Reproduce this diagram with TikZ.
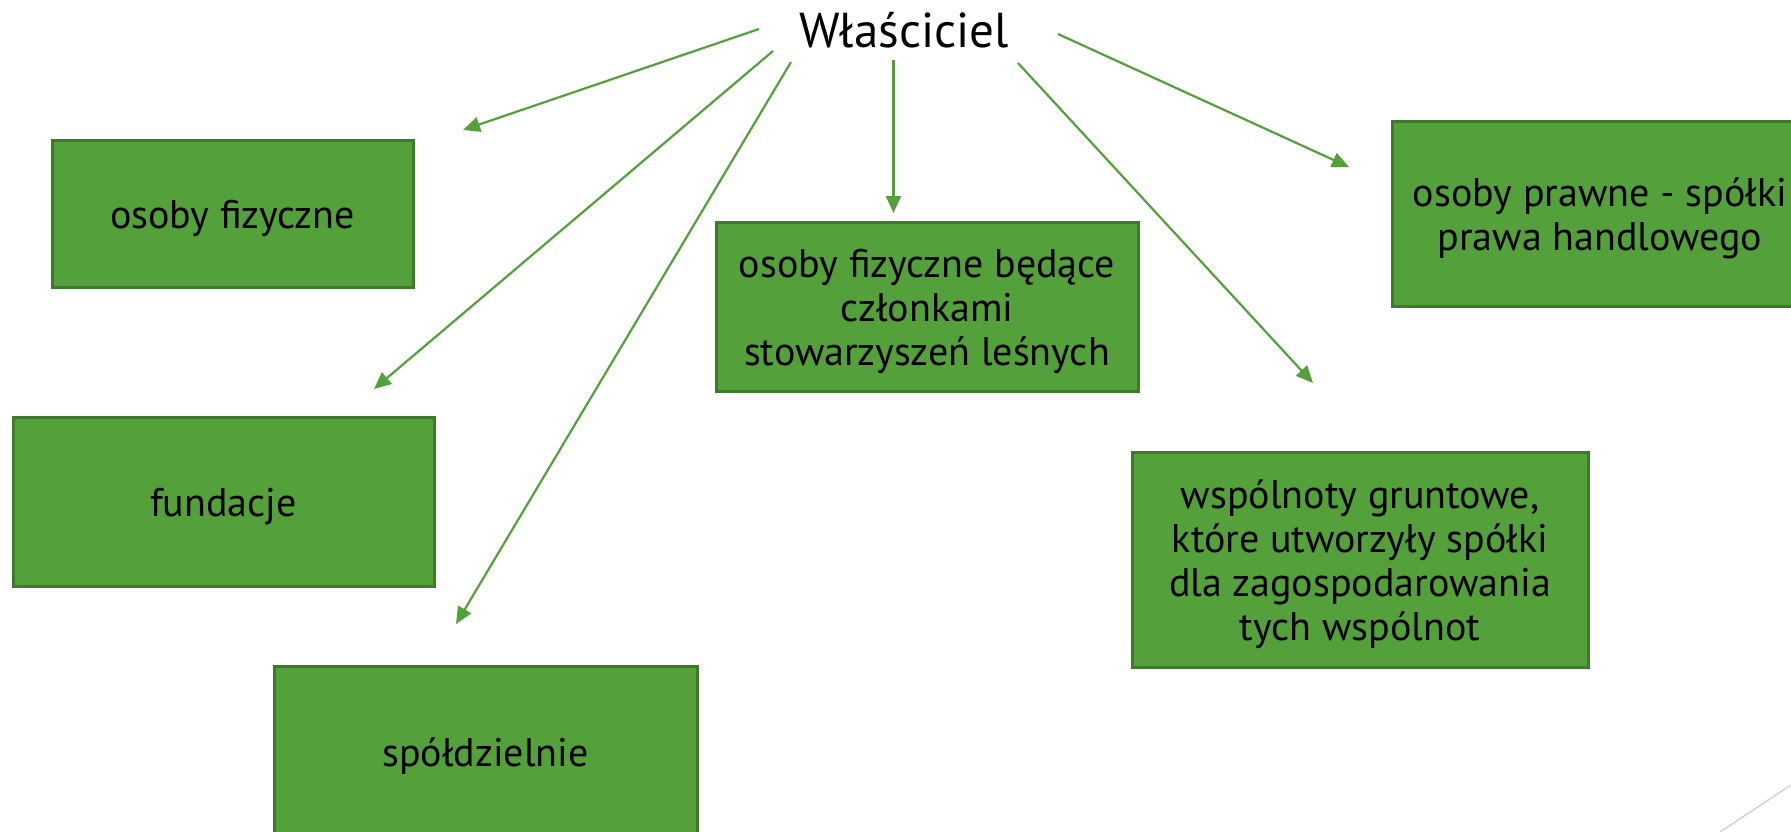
\documentclass[tikz,border=0pt]{standalone}
\usepackage{fontspec}
\setmainfont{PT Sans}
\usetikzlibrary{arrows.meta}
\definecolor{boxfill}{HTML}{54A03A}
\definecolor{boxline}{HTML}{3E7A2B}
\definecolor{arrowc}{HTML}{54A03A}
\definecolor{deco}{HTML}{D4D4D4}
\newcommand{\boxtext}[1]{\raisebox{-6pt}[\height][\depth]{\begin{tabular}{@{}c@{}}#1\end{tabular}}}
\newcommand{\shortdash}{\resizebox{0.55\width}{\height}{–}}
\begin{document}
\begin{tikzpicture}[x=1pt,y=-1pt,
  box/.style={rectangle, draw=boxline, fill=boxfill, line width=3pt,
    inner sep=0pt, font=\fontsize{40}{44}\selectfont, text=black},
  conn/.style={draw=arrowc, line width=2.2pt, -{Triangle[length=17pt,width=15pt]}}]
\useasboundingbox (0,0) rectangle (1791,832);
\clip (0,0) rectangle (1791,832);
\node[font=\fontsize{49}{54}\selectfont] (title) at (904,30) {Właściciel};
\node[box, minimum width=361pt, minimum height=146pt] (b1) at (232.5,214) {\boxtext{osoby fizyczne}};
\node[box, minimum width=421pt, minimum height=169pt] (b2) at (223.5,501.5) {\boxtext{fundacje}};
\node[box, minimum width=423pt, minimum height=172pt] (b3) at (485.5,752) {\boxtext{spółdzielnie}};
\node[box, minimum width=422pt, minimum height=169pt] (b4) at (927,306.5) {\boxtext{osoby fizyczne będące\\członkami\\stowarzyszeń leśnych}};
\node[box, minimum width=416pt, minimum height=184pt] (b5) at (1600,214) {\boxtext{osoby prawne \shortdash{} spółki\\prawa handlowego}};
\node[box, minimum width=456pt, minimum height=215pt] (b6) at (1360,559.5) {\boxtext{wspólnoty gruntowe,\\które utworzyły spółki\\dla zagospodarowania\\tych wspólnot}};
\coordinate (s1) at (759,29);
\coordinate (e1) at (463,130);
\coordinate (s2) at (773,51);
\coordinate (e2) at (374,389);
\coordinate (s3) at (791,62);
\coordinate (e3) at (456,624);
\coordinate (s4) at (893.5,60);
\coordinate (e4) at (893.5,213);
\coordinate (s5) at (1018,63);
\coordinate (e5) at (1313,383);
\coordinate (s6) at (1058,34);
\coordinate (e6) at (1349,167);
\draw[conn] (s1) -- (e1);
\draw[conn] (s2) -- (e2);
\draw[conn] (s3) -- (e3);
\draw[conn] (s4) -- (e4);
\draw[conn] (s5) -- (e5);
\draw[conn] (s6) -- (e6);
\coordinate (d1) at (1791,785);
\coordinate (d2) at (1720,832);
\draw[deco, line width=1.5pt] (d1) -- (d2);
\end{tikzpicture}
\end{document}
